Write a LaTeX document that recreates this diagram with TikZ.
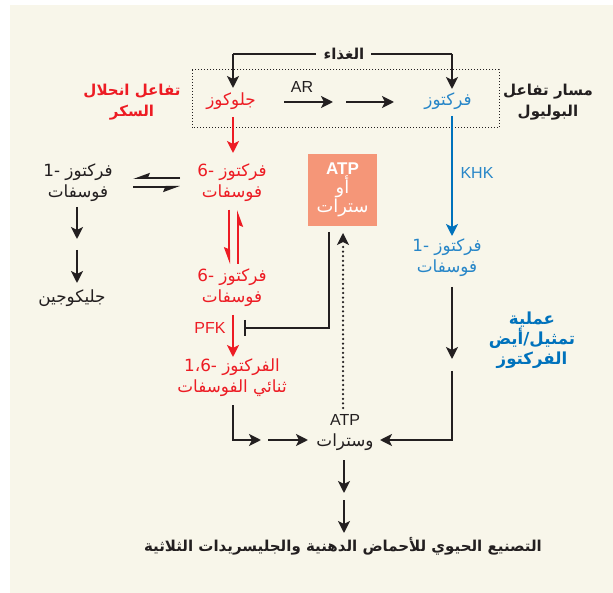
\documentclass[tikz,border=0pt]{standalone}
\usepackage{fontspec}
\setmainfont{Liberation Sans}
\newfontfamily\arabicfont[Script=Arabic,Scale=1.05]{DejaVu Sans}
\TeXXeTstate=1
\usetikzlibrary{arrows.meta,calc}
\definecolor{cream}{RGB}{248,246,234}
\definecolor{myred}{RGB}{237,28,36}
\definecolor{myblue}{RGB}{0,114,188}
\definecolor{txtblue}{RGB}{39,134,200}
\definecolor{dark}{RGB}{35,31,32}
\definecolor{salmon}{RGB}{245,150,120}
\newcommand{\ar}[1]{{\arabicfont\beginR #1\endR}}
\begin{document}
\begin{tikzpicture}[x=1pt,y=-1pt,
  font=\fontsize{16}{21}\selectfont,
  lbl/.style={inner sep=0pt, align=center, text=dark},
  bold/.style={font=\fontsize{14.3}{21}\selectfont\bfseries},
  tipk/.style={-{Stealth[length=12pt,width=12pt,inset=3pt]}},
  arrk/.style={draw=dark, line width=2.3pt, tipk},
  arrr/.style={draw=myred, line width=2.3pt, -{Stealth[length=12pt,width=12pt,inset=3pt]}},
  arrb/.style={draw=myblue, line width=2.3pt, -{Stealth[length=12pt,width=12pt,inset=3pt]}},
  harpk/.style={line width=2pt, -{Stealth[harpoon,swap,length=14pt,width=10pt,inset=2pt]}},
  linek/.style={draw=dark, line width=2.3pt}
]
\useasboundingbox (0,0) rectangle (613,593);
\fill[white] (0,0) rectangle (613,593);
\fill[cream] (10,5) rectangle (613,593);

% dotted polyol box
\draw[dark, line width=1pt, dash pattern=on 1pt off 2pt] (192,70) rectangle (499,128);

% labels
\node[lbl, bold] (food) at (344,54) {\ar{الغذاء}};
\node[lbl, text=myred] (glu) at (231,101) {\ar{جلوكوز}};
\node[lbl] (ar) at (302,87) {AR};
\node[lbl, text=txtblue] (fru) at (448,101) {\ar{فركتوز}};
\node[lbl, bold, text=myred] (glyco) at (132,102) {\ar{تفاعل انحلال}\\\ar{السكر}};
\node[lbl, bold] (polyol) at (548,102) {\ar{مسار تفاعل}\\\ar{البوليول}};

\node[lbl, text=myred] (f6p) at (232,183) {\ar{فركتوز -6}\\\ar{فوسفات}};
\node[lbl] (f1pk) at (78,183) {\ar{فركتوز -1}\\\ar{فوسفات}};
\node[lbl] (glycogen) at (72,298) {\ar{جليكوجين}};
\node[lbl, text=myred] (f6pb) at (232,288) {\ar{فركتوز -6}\\\ar{فوسفات}};
\node[lbl, text=myred] (pfk) at (210,328) {PFK};
\node[lbl, text=myred] (fbp) at (232,378) {\ar{الفركتوز -\beginL1،6\endL}\\\ar{ثنائي الفوسفات}};

\node[fill=salmon, minimum width=69pt, minimum height=72pt, inner sep=0pt] (atpbox) at (342.5,190) {};
\node[lbl, text=white, font=\fontsize{17}{20}\selectfont] (atpboxtxt) at (342.5,190)
  {\textbf{ATP}\\[-1pt]\ar{أو}\\[-1pt]\ar{سترات}};

\node[lbl, text=txtblue] (khk) at (477,173) {KHK};
\node[lbl, text=txtblue] (f1pb) at (447,258) {\ar{فركتوز -1}\\\ar{فوسفات}};
\node[lbl, bold, text=myblue, font=\fontsize{15.8}{20}\selectfont\bfseries] (metab) at (532,340) {\ar{عملية}\\\ar{تمثيل/أيض}\\\ar{الفركتوز}};

\node[lbl] (atpc) at (345,433) {ATP\\\ar{وسترات}};
\node[lbl, bold] (out) at (343,546) {\ar{التصنيع الحيوي للأحماض الدهنية والجليسريدات الثلاثية}};

% coordinates
\coordinate (fl) at (316,54);
\coordinate (fr) at (371,54);
\coordinate (fcl) at (233,54);
\coordinate (fcr) at (452,54);
\coordinate (glutip) at (233,88);
\coordinate (frutip) at (452,89);
\coordinate (a1s) at (284,102); \coordinate (a1e) at (333,102);
\coordinate (a2s) at (346,102); \coordinate (a2e) at (394,102);
\coordinate (r1s) at (233,117); \coordinate (r1e) at (233,153);
\coordinate (b1s) at (452,116); \coordinate (b1e) at (452,236);
\coordinate (h1s) at (180,178); \coordinate (h1e) at (133,178);
\coordinate (h2s) at (133,187); \coordinate (h2e) at (180,187);
\coordinate (v1s) at (229,210); \coordinate (v1e) at (229,264);
\coordinate (v2s) at (238,264); \coordinate (v2e) at (238,210);
\coordinate (k1s) at (77,207); \coordinate (k1e) at (77,239);
\coordinate (k2s) at (77,250); \coordinate (k2e) at (77,283);
\coordinate (pfks) at (233,315); \coordinate (pfke) at (233,357);
\coordinate (inhs) at (329,232); \coordinate (inhc) at (329,328); \coordinate (inhe) at (245,328);
\coordinate (inht) at (245,320); \coordinate (inhb) at (245,336);
\coordinate (dots) at (343,408); \coordinate (dotm) at (343,243); \coordinate (dotn) at (343,239); \coordinate (dote) at (343,233);
\coordinate (bk1s) at (452,287); \coordinate (bk1e) at (452,359);
\coordinate (rts) at (452,371); \coordinate (rtc) at (452,440); \coordinate (rte) at (380,440);
\coordinate (lts) at (233,405); \coordinate (ltc) at (233,440); \coordinate (lte) at (261,440);
\coordinate (l2s) at (268,440); \coordinate (l2e) at (308,440);
\coordinate (d1s) at (344,460); \coordinate (d1e) at (344,493);
\coordinate (d2s) at (344,500); \coordinate (d2e) at (344,533);

% food arrows
\draw[linek] (fl) -- (fcl);
\draw[arrk] (fcl) -- (glutip);
\draw[linek] (fr) -- (fcr);
\draw[arrk] (fcr) -- (frutip);
% AR arrows
\draw[arrk] (a1s) -- (a1e);
\draw[arrk] (a2s) -- (a2e);
% glycolysis
\draw[arrr] (r1s) -- (r1e);
\draw[harpk, draw=myred, fill=myred] (v1s) -- (v1e);
\draw[harpk, draw=myred, fill=myred] (v2s) -- (v2e);
\draw[arrr] (pfks) -- (pfke);
% left equilibrium
\draw[harpk, draw=dark, fill=dark] (h1s) -- (h1e);
\draw[harpk, draw=dark, fill=dark] (h2s) -- (h2e);
\draw[arrk] (k1s) -- (k1e);
\draw[arrk] (k2s) -- (k2e);
% inhibition
\draw[linek] (inhs) -- (inhc) -- (inhe);
\draw[linek] (inht) -- (inhb);
% dotted
\draw[dark, line width=2.5pt, dash pattern=on 0pt off 4.6pt, line cap=round] (dots) -- (dotm);
\draw[arrk, line width=1.2pt] (dotn) -- (dote);
% fructose branch
\draw[arrb] (b1s) -- (b1e);
\draw[arrk] (bk1s) -- (bk1e);
\draw[arrk] (rts) -- (rtc) -- (rte);
\draw[arrk] (lts) -- (ltc) -- (lte);
\draw[arrk] (l2s) -- (l2e);
\draw[arrk] (d1s) -- (d1e);
\draw[arrk] (d2s) -- (d2e);
\end{tikzpicture}
\end{document}
